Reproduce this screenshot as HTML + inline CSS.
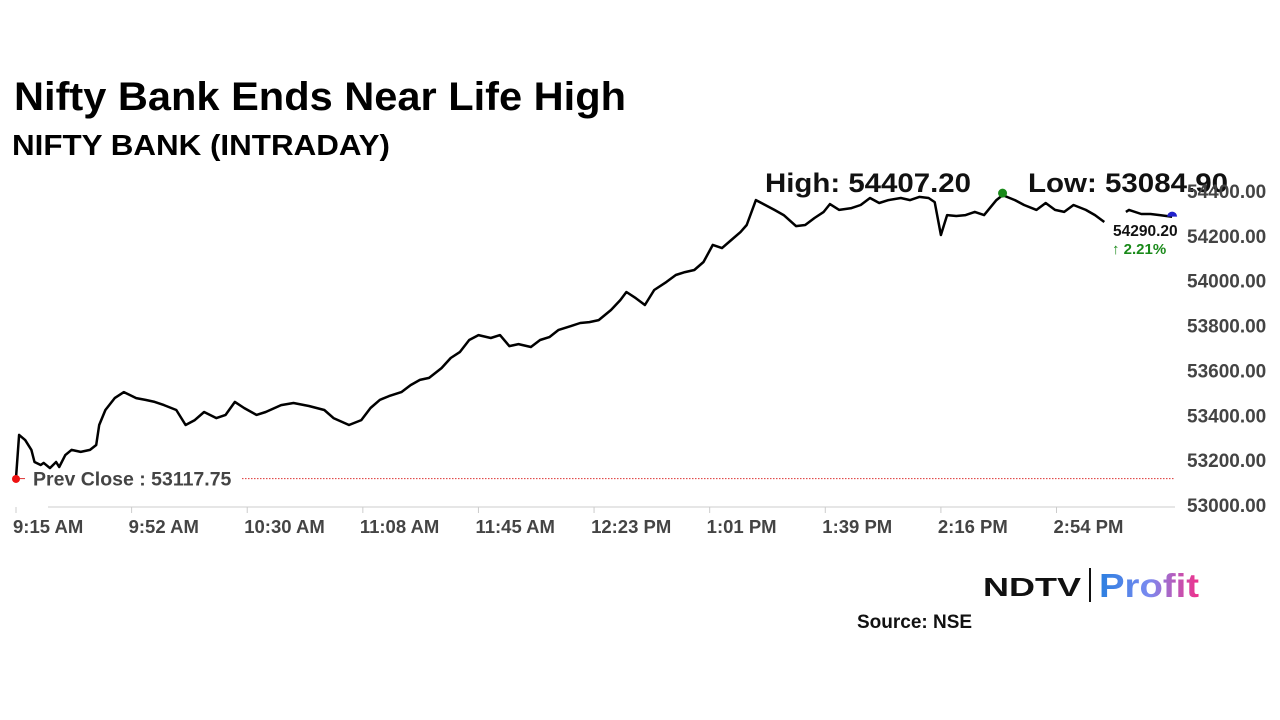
<!DOCTYPE html>
<html><head><meta charset="utf-8"><style>
body{margin:0;background:#fff;width:1280px;height:720px;overflow:hidden}
svg{display:block}
text{font-family:"Liberation Sans",sans-serif}
</style></head><body>
<svg id="chart" width="1280" height="720">
<text x="14" y="110" font-size="40" font-weight="bold" textLength="612" lengthAdjust="spacingAndGlyphs">Nifty Bank Ends Near Life High</text>
<text x="12" y="155" font-size="29" font-weight="bold" textLength="378" lengthAdjust="spacingAndGlyphs">NIFTY BANK (INTRADAY)</text>
<text x="765" y="192" font-size="27" font-weight="bold" textLength="206" lengthAdjust="spacingAndGlyphs" fill="#111">High: 54407.20</text>
<text x="1028" y="192" font-size="27" font-weight="bold" textLength="200" lengthAdjust="spacingAndGlyphs" fill="#111">Low: 53084.90</text>
<g id="yaxis"></g>
<g id="xaxis"></g>
<g id="plot"></g>
<g>
<text x="983" y="596" font-size="26" font-weight="900" textLength="98" lengthAdjust="spacingAndGlyphs" fill="#111">NDTV</text>
<line x1="1090" y1="568" x2="1090" y2="602" stroke="#111" stroke-width="2"/>
<defs><linearGradient id="pg" x1="0" x2="1"><stop offset="0" stop-color="#2a7fe0"/><stop offset="0.5" stop-color="#7a8af0"/><stop offset="1" stop-color="#f0308a"/></linearGradient></defs>
<text x="1099" y="597" font-size="33" font-weight="bold" fill="url(#pg)" textLength="100" lengthAdjust="spacingAndGlyphs">Profit</text>
</g>
<text x="857" y="628" font-size="19" font-weight="bold" fill="#111">Source: NSE</text>
</svg>
<script>
const minutes=[0,1,3,5,6,8,9,11,13,14,16,18,21,24,26,27,29,32,35,39,42,45,48,52,55,58,61,65,68,71,74,78,81,86,90,95,100,103,108,112,115,118,121,125,128,131,134,138,141,144,147,150,154,157,160,163,167,170,173,176,180,183,186,189,193,196,198,201,204,207,211,214,217,220,223,226,229,232,235,237,240,243,246,249,253,256,259,262,264,267,271,274,277,280,283,287,290,293,296,298,300,301,302,305,308,311,314,318,320,324,327,331,334,337,340,343,347,350,353,355,360,361,365,368,371,375];
const values=[53125,53317,53294,53250,53196,53183,53192,53169,53196,53174,53227,53250,53241,53250,53272,53361,53428,53481,53508,53481,53473,53464,53450,53428,53361,53383,53419,53392,53406,53464,53437,53406,53419,53450,53459,53446,53428,53392,53361,53383,53437,53473,53490,53508,53539,53562,53571,53615,53660,53687,53740,53762,53749,53762,53713,53722,53709,53740,53753,53785,53802,53816,53820,53829,53874,53918,53954,53927,53896,53963,53999,54030,54043,54052,54088,54164,54150,54186,54221,54253,54364,54342,54320,54297,54248,54253,54284,54311,54346,54320,54328,54342,54373,54351,54364,54373,54364,54378,54373,54355,54208,54253,54297,54293,54297,54311,54297,54364,54386,54364,54342,54320,54351,54320,54311,54342,54320,54297,54266,null,54311,54320,54302,54302,54297,54290];
const yTicks=[53000,53200,53400,53600,53800,54000,54200,54400];
const xTickLabels=["9:15 AM","9:52 AM","10:30 AM","11:08 AM","11:45 AM","12:23 PM","1:01 PM","1:39 PM","2:16 PM","2:54 PM"];
const xTickMinutes=[0,37.5,75,112.5,150,187.5,225,262.5,300,337.5];
const prevClose=53117.75;
const highMinute=320, highValue=54386;
const lastValue=54290.20, changePct="2.21%";
const NS="http://www.w3.org/2000/svg";
const xs=m=>16+m*3.083;
const ys=v=>506-(v-53000)*0.2243;
function mk(tag,attrs,parent,txt){const e=document.createElementNS(NS,tag);for(const k in attrs)e.setAttribute(k,attrs[k]);if(txt!=null)e.textContent=txt;parent.appendChild(e);return e;}
const ya=document.getElementById('yaxis'),xa=document.getElementById('xaxis'),pl=document.getElementById('plot');
yTicks.forEach(v=>{const t=mk('text',{x:1187,y:ys(v)+6,'font-size':19,'font-weight':'bold',fill:'#444'},ya,v.toFixed(2));

});
mk('line',{x1:48,y1:507,x2:1175,y2:507,stroke:'#ddd','stroke-width':1.5},xa);
xTickMinutes.forEach((m,i)=>{mk('line',{x1:xs(m),y1:507,x2:xs(m),y2:513,stroke:'#ccc','stroke-width':1},xa);
const t=mk('text',{x:xs(m)-3,y:533,'font-size':18.5,'font-weight':'bold',fill:'#444'},xa,xTickLabels[i]);

});
const pc=mk('line',{x1:242,y1:ys(prevClose)-1,x2:1175,y2:ys(prevClose)-1,stroke:'#d33','stroke-width':1,'stroke-dasharray':'1.5,1.5'},pl);


mk('line',{x1:16,y1:ys(prevClose)-1,x2:25,y2:ys(prevClose)-1,stroke:'#d33','stroke-width':1},pl);
const pct=mk('text',{x:33,y:ys(prevClose)+6,'font-size':19.5,'font-weight':'bold',fill:'#444'},pl,'Prev Close : '+prevClose.toFixed(2));


let d='',pen=false;
minutes.forEach((m,i)=>{const v=values[i];if(v==null){pen=false;return;}d+=(pen?'L':'M')+xs(m).toFixed(1)+','+ys(v).toFixed(1);pen=true;});
const line=mk('path',{d:d,fill:'none',stroke:'#000','stroke-width':2.5,'stroke-linejoin':'round'},pl);


const sd=mk('circle',{cx:xs(0),cy:ys(values[0])+1,r:4,fill:'#e11'},pl);


const hd=mk('circle',{cx:xs(highMinute),cy:ys(highValue)-2,r:4.5,fill:'#1a8a1a'},pl);


const ed=mk('path',{d:`M${xs(375)-5},${ys(lastValue)} a5,5 0 0 1 10,0 z`,fill:'#22c'},pl);


const lv=mk('text',{x:1113,y:236,'font-size':15.5,'font-weight':'bold',fill:'#111'},pl,lastValue.toFixed(2));


const cp=mk('text',{x:1112,y:254,'font-size':15,'font-weight':'bold',fill:'#1a8a1a'},pl,'\u2191 '+changePct);


</script>
</body></html>
